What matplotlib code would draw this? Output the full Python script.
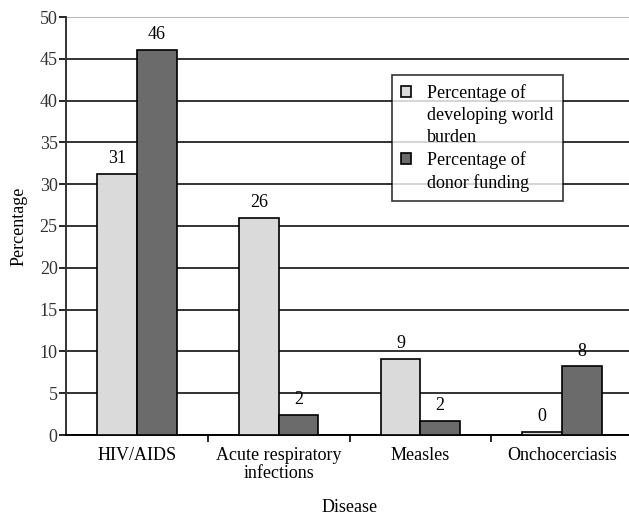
import numpy as np
import matplotlib
matplotlib.use('Agg')
import matplotlib.pyplot as plt
from matplotlib.patches import Patch

plt.rcParams['font.family'] = ['Liberation Serif', 'DejaVu Serif']

diseases     = ["HIV/AIDS", "Acute respiratory\ninfections", "Measles", "Onchocerciasis"]
burden       = [31.2, 26.0, 9.1, 0.4]
funding      = [46.1, 2.4, 1.7, 8.2]
burden_text  = ["31", "26", "9", "0"]
funding_text = ["46", "2", "2", "8"]

LIGHT = '#dadada'
DARK  = '#6b6b6b'
FS = 13

fig = plt.figure(figsize=(6.29, 5.16), dpi=100)
ax = fig.add_axes([66 / 629, 81 / 516, 567 / 629, 418 / 516])

x = np.arange(len(diseases))
w = 0.28
b1 = ax.bar(x - w / 2, burden, w, color=LIGHT, edgecolor='black', linewidth=1.2, zorder=3)
b2 = ax.bar(x + w / 2, funding, w, color=DARK, edgecolor='black', linewidth=1.2, zorder=3)

for bars, labels in ((b1, burden_text), (b2, funding_text)):
    for bar, lab in zip(bars, labels):
        ax.annotate(lab, (bar.get_x() + bar.get_width() / 2, bar.get_height()),
                    xytext=(0, 5), textcoords='offset points',
                    ha='center', va='bottom', fontsize=FS)

ax.set_xlim(-0.5, 3.5)
ax.set_ylim(0, 50)
ax.set_yticks(np.arange(0, 51, 5))
ax.yaxis.grid(True, color='#222222', linewidth=1.3, zorder=0)
ax.yaxis.get_gridlines()[-1].set_color('#b0b0b0')
ax.set_axisbelow(True)

ax.set_xticks(x)
ax.set_xticklabels(diseases, fontsize=FS, linespacing=1.05)
ax.set_xticks([0.5, 1.5, 2.5], minor=True)
ax.tick_params(axis='x', which='major', length=0, pad=9)
ax.tick_params(axis='x', which='minor', length=5, width=1.2, direction='out')
ax.tick_params(axis='y', length=5, width=1.2, pad=1, labelsize=FS, labelcolor='#333333')

for s in ('top', 'right'):
    ax.spines[s].set_visible(False)
ax.spines['left'].set_linewidth(1.4)
ax.spines['left'].set_color('#333333')
ax.spines['bottom'].set_linewidth(1.4)

ax.set_ylabel('Percentage', fontsize=FS, labelpad=9)
ax.set_xlabel('Disease', fontsize=FS, labelpad=12)

blank = Patch(facecolor='none', edgecolor='none')
handles = [Patch(facecolor=LIGHT, edgecolor='black', linewidth=1.2), blank, blank,
           Patch(facecolor=DARK, edgecolor='black', linewidth=1.2), blank]
labels = ["Percentage of", "developing world", "burden", "Percentage of", "donor funding"]
leg = ax.legend(handles, labels, loc='upper left', bbox_to_anchor=(326 / 567, 1 - 58 / 418),
                fontsize=FS, frameon=True, fancybox=False, edgecolor='black',
                handlelength=0.55, handleheight=0.55, handletextpad=0.9,
                labelspacing=0.28, borderpad=0.5, borderaxespad=0)
leg.get_frame().set_linewidth(1.2)
leg.set_zorder(5)

plt.savefig('out.png', dpi=100)
